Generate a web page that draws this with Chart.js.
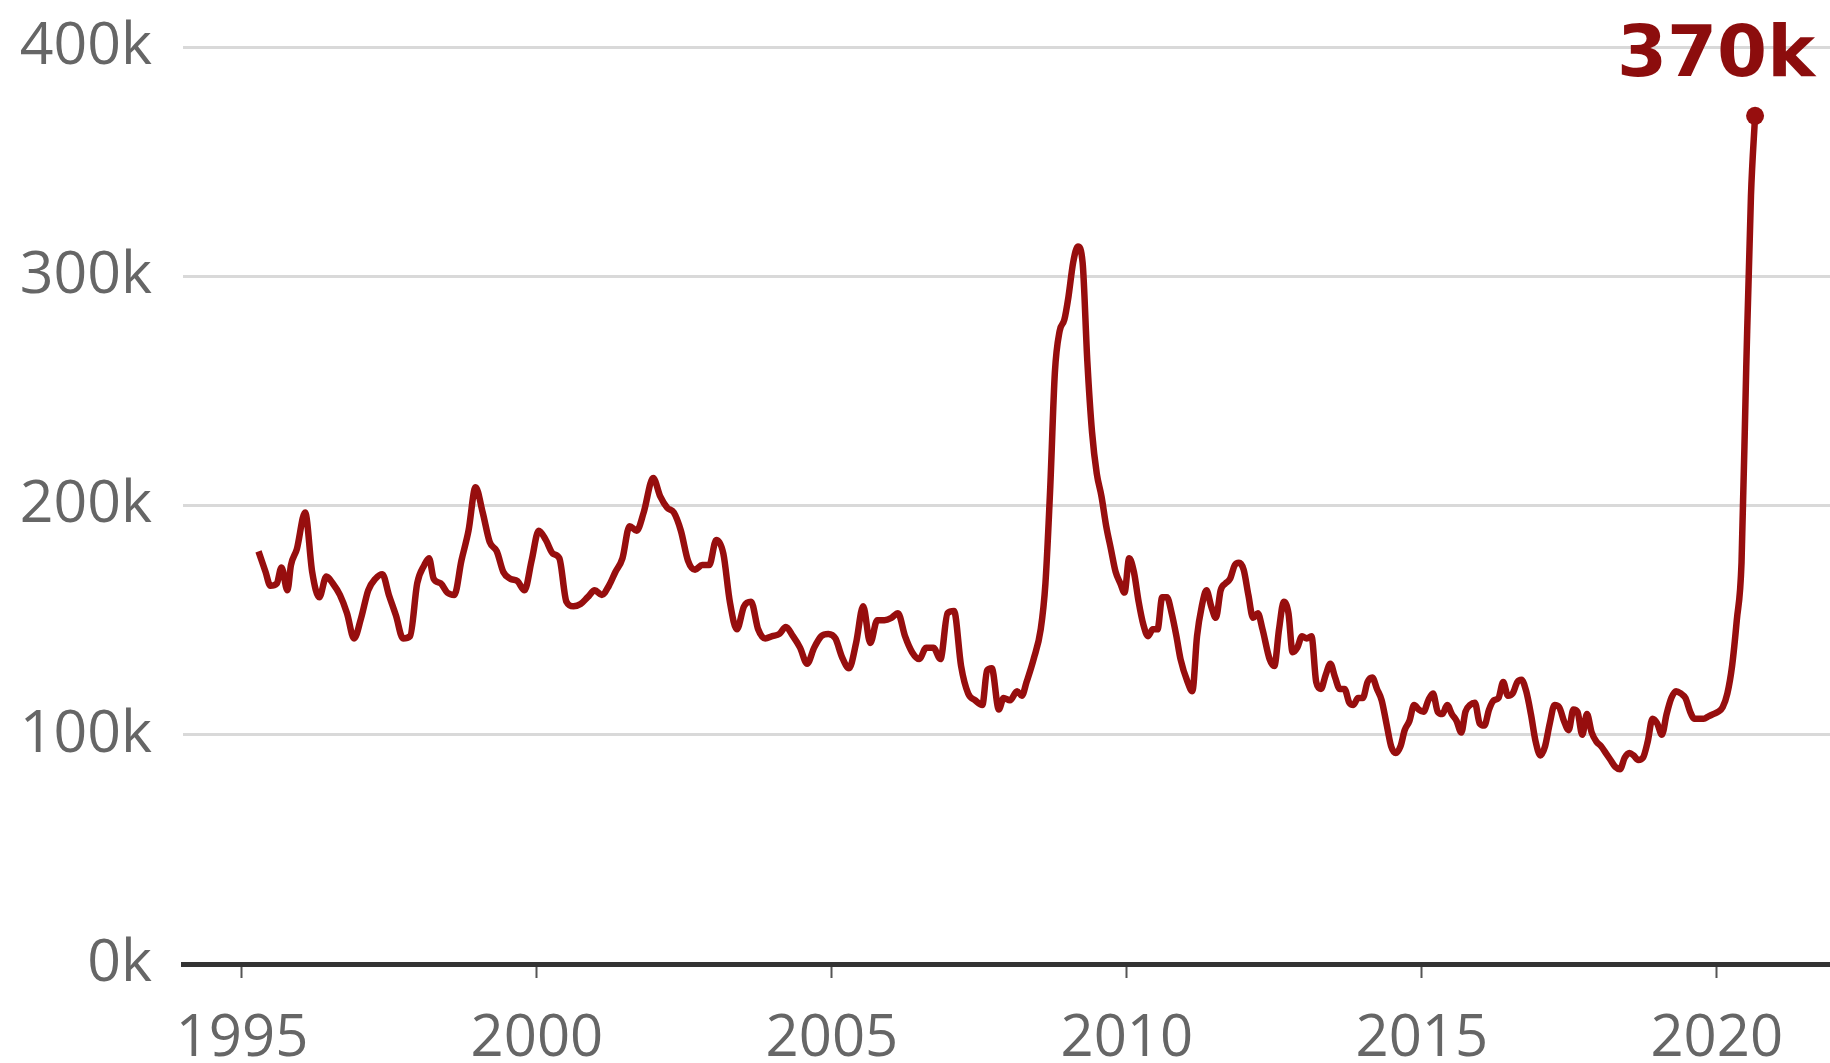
<!DOCTYPE html>
<html>
<head>
<meta charset="utf-8">
<script src="https://cdn.jsdelivr.net/npm/chart.js@4"></script>
<style>
  html, body { margin: 0; padding: 0; background: #ffffff; }
  #wrap { width: 1830px; height: 1063px; }
</style>
</head>
<body>
<div id="wrap"><canvas id="c" width="1830" height="1063"></canvas></div>
<script>
const years = [
  1995.28,1995.40,1995.48,1995.59,1995.67,1995.77,1995.83,1995.93,1996.07,1996.19,
  1996.31,1996.43,1996.54,1996.66,1996.78,1996.90,1997.02,1997.14,1997.26,1997.38,
  1997.49,1997.61,1997.73,1997.85,1997.97,1998.09,1998.17,1998.25,1998.37,1998.48,
  1998.60,1998.72,1998.84,1998.96,1999.08,1999.20,1999.32,1999.43,1999.55,1999.67,
  1999.79,1999.91,2000.03,2000.15,2000.27,2000.38,2000.50,2000.62,2000.74,2000.86,
  2000.98,2001.10,2001.22,2001.33,2001.45,2001.57,2001.69,2001.81,2001.97,2002.09,
  2002.21,2002.32,2002.44,2002.56,2002.68,2002.80,2002.92,2003.04,2003.16,2003.27,
  2003.39,2003.51,2003.63,2003.75,2003.87,2003.99,2004.11,2004.22,2004.34,2004.46,
  2004.58,2004.70,2004.82,2004.94,2005.06,2005.17,2005.29,2005.41,2005.53,2005.65,
  2005.77,2005.89,2006.01,2006.12,2006.24,2006.36,2006.48,2006.60,2006.72,2006.84,
  2006.96,2007.07,2007.19,2007.31,2007.43,2007.55,2007.63,2007.71,2007.83,2007.91,
  2008.02,2008.14,2008.22,2008.30,2008.42,2008.54,2008.62,2008.70,2008.78,2008.86,
  2008.94,2009.01,2009.09,2009.17,2009.25,2009.33,2009.41,2009.49,2009.57,2009.65,
  2009.73,2009.81,2009.89,2009.96,2010.04,2010.12,2010.20,2010.28,2010.36,2010.44,
  2010.52,2010.60,2010.68,2010.76,2010.84,2010.91,2011.03,2011.11,2011.19,2011.27,
  2011.35,2011.43,2011.51,2011.59,2011.67,2011.75,2011.83,2011.90,2011.98,2012.06,
  2012.14,2012.22,2012.30,2012.42,2012.50,2012.58,2012.66,2012.74,2012.81,2012.89,
  2012.97,2013.05,2013.13,2013.21,2013.29,2013.37,2013.45,2013.53,2013.61,2013.69,
  2013.77,2013.84,2013.92,2014.00,2014.08,2014.16,2014.24,2014.32,2014.40,2014.48,
  2014.56,2014.64,2014.71,2014.79,2014.87,2014.95,2015.03,2015.11,2015.19,2015.27,
  2015.35,2015.43,2015.51,2015.59,2015.67,2015.74,2015.82,2015.90,2015.98,2016.06,
  2016.14,2016.22,2016.30,2016.38,2016.46,2016.54,2016.62,2016.69,2016.77,2016.85,
  2016.93,2017.01,2017.09,2017.17,2017.25,2017.33,2017.41,2017.49,2017.57,2017.64,
  2017.72,2017.80,2017.88,2017.96,2018.04,2018.12,2018.20,2018.28,2018.36,2018.44,
  2018.52,2018.59,2018.67,2018.75,2018.83,2018.91,2018.99,2019.07,2019.15,2019.23,
  2019.31,2019.39,2019.47,2019.55,2019.62,2019.70,2019.78,2019.86,2019.94,2020.02,
  2020.10,2020.18,2020.26,2020.34,2020.42,2020.50,2020.58,2020.65
];
const redundancies = [
  180,171,165,166,173,163,174,181,197,171,
  160,169,166,161,153,142,151,163,168,170,
  161,152,142,143,166,174,177,168,166,162,
  161,176,189,208,197,184,180,171,168,167,
  163,176,189,185,179,177,158,156,157,160,
  163,161,165,171,177,191,189,197,212,204,
  199,197,189,176,172,174,174,185,179,158,
  146,156,158,146,142,143,144,147,143,138,
  131,138,143,144,142,134,129,140,156,140,
  150,150,151,153,143,136,133,138,138,133,
  153,154,130,118,115,113,128,129,111,116,
  115,119,117,123,133,146,166,207,258,276,
  281,291,306,313,306,263,232,214,204,191,
  181,171,166,162,177,171,158,148,143,146,
  146,160,160,153,143,133,123,119,143,156,
  163,156,151,163,166,168,174,175,172,161,
  151,153,146,133,130,146,158,153,136,138,
  143,142,143,123,120,126,131,125,120,120,
  114,113,116,116,123,125,120,115,105,95,
  92,95,102,106,113,111,110,115,118,110,
  109,113,109,106,101,110,113,114,105,104,
  111,115,116,123,117,118,123,124,119,109,
  97,91,95,105,113,112,106,102,111,110,
  100,109,101,97,95,92,89,86,85,90,
  92,91,89,90,97,107,105,100,109,116,
  119,118,116,110,107,107,107,108,109,110,
  112,118,130,150,175,260,335,370
];
const xTickYears = [1995, 2000, 2005, 2010, 2015, 2020];
const yTickValues = [0, 100, 200, 300, 400];
const endLabel = '370k';

const LINE_COLOR = '#970e0e';
const LABEL_COLOR = '#8c0d0d';
const TEXT_GRAY = '#666666';
const FONT = "'Open Sans', 'Noto Sans', sans-serif";
const LABEL_FONT = "'DejaVu Sans', 'Open Sans', sans-serif";

const lastIndex = redundancies.length - 1;

const endLabelPlugin = {
  id: 'endLabel',
  afterDatasetsDraw(chart) {
    const meta = chart.getDatasetMeta(0);
    const pt = meta.data[lastIndex];
    if (!pt) return;
    const ctx = chart.ctx;
    ctx.save();
    ctx.font = "bold 72px " + LABEL_FONT;
    ctx.fillStyle = LABEL_COLOR;
    ctx.textAlign = 'right';
    ctx.textBaseline = 'alphabetic';
    ctx.fillText(endLabel, pt.x + 60, pt.y - 40);
    ctx.restore();
  }
};

new Chart(document.getElementById('c'), {
  type: 'line',
  data: {
    datasets: [{
      data: years.map((x, i) => ({ x: x, y: redundancies[i] })),
      borderColor: LINE_COLOR,
      backgroundColor: LINE_COLOR,
      borderWidth: 6.5,
      cubicInterpolationMode: 'monotone',
      pointRadius: ctx => ctx.dataIndex === lastIndex ? 9 : 0,
      pointHoverRadius: 0,
      pointBorderWidth: 0,
      pointBackgroundColor: LINE_COLOR,
      fill: false,
      clip: false
    }]
  },
  options: {
    responsive: false,
    devicePixelRatio: 1,
    animation: false,
    layout: { autoPadding: false, padding: { top: 47, left: 0, right: 0, bottom: 0 } },
    plugins: {
      legend: { display: false },
      tooltip: { enabled: false }
    },
    scales: {
      x: {
        type: 'linear',
        min: 1994,
        max: 2021.92,
        afterBuildTicks: scale => { scale.ticks = xTickYears.map(v => ({ value: v })); },
        afterFit: scale => { scale.height = 99; scale.paddingLeft = 0; scale.paddingRight = 0; },
        grid: {
          display: true,
          drawOnChartArea: false,
          drawTicks: true,
          tickLength: 14,
          tickColor: '#555555',
          tickWidth: 2
        },
        border: { display: true, color: '#333333', width: 5 },
        ticks: {
          color: TEXT_GRAY,
          font: { family: FONT, size: 58, weight: 400 },
          padding: 27,
          maxRotation: 0,
          autoSkip: false,
          callback: v => String(v)
        }
      },
      y: {
        min: 0,
        max: 400,
        afterBuildTicks: scale => { scale.ticks = yTickValues.map(v => ({ value: v })); },
        afterFit: scale => { scale.width = 183; scale.paddingTop = 0; scale.paddingBottom = 0; },
        grid: {
          color: '#d9d9d9',
          lineWidth: 3,
          drawTicks: false
        },
        border: { display: false },
        ticks: {
          color: TEXT_GRAY,
          font: { family: FONT, size: 59, weight: 400 },
          padding: 31,
          callback: v => v + 'k'
        }
      }
    }
  },
  plugins: [endLabelPlugin]
});
</script>
</body>
</html>
